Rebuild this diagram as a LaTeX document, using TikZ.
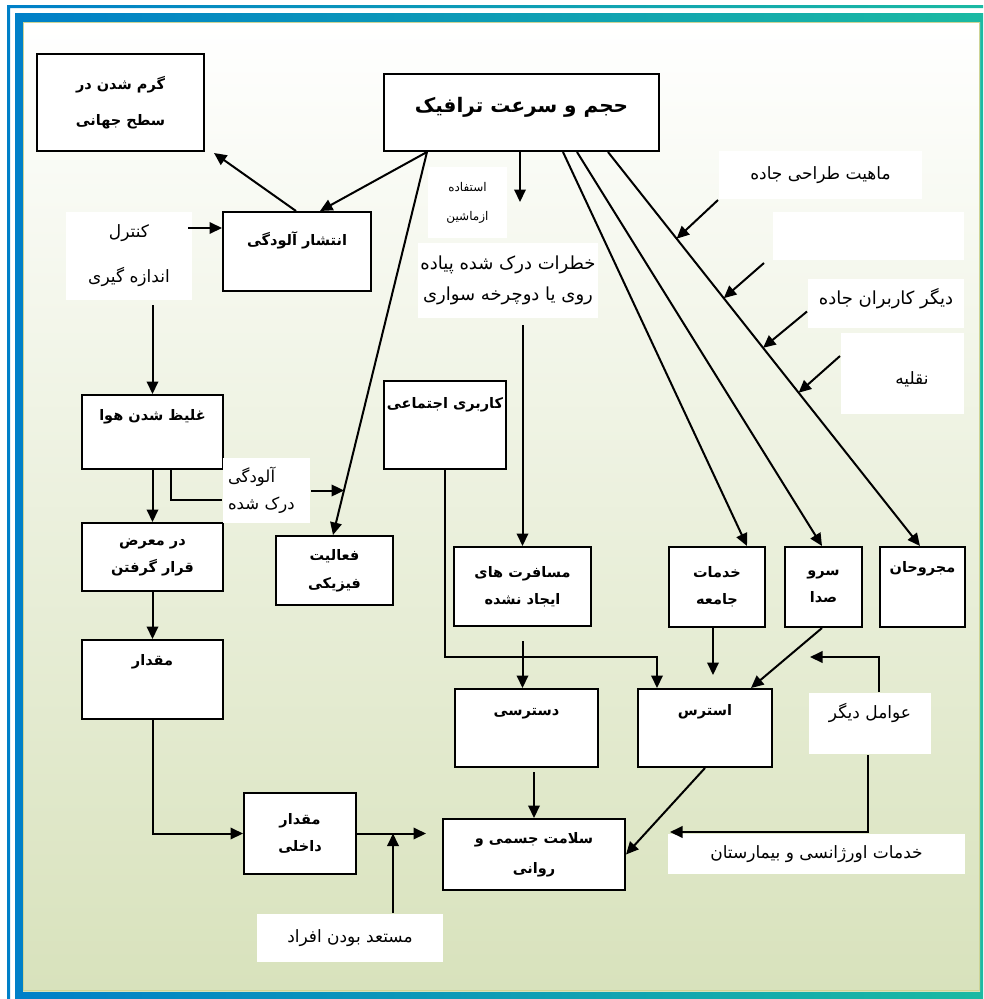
\documentclass[tikz,border=0pt]{standalone}
\usepackage{fontspec}
\usetikzlibrary{arrows.meta,calc}
\newfontfamily\arabicfont[Script=Arabic]{DejaVu Sans}
\TeXXeTstate=1
\newcommand{\fa}[1]{\beginR #1\endR}
\definecolor{frameblue}{RGB}{0,128,200}
\definecolor{frameteal}{RGB}{27,186,162}
\definecolor{paper}{RGB}{216,226,188}
\definecolor{edge}{RGB}{205,212,150}

\begin{document}
\begin{tikzpicture}[x=1pt,y=-1pt,line width=2pt,>={Triangle[length=12.5pt,width=11.5pt]},
  box/.style={draw,fill=white,anchor=north west,align=center,inner sep=2pt,
    font=\arabicfont\bfseries\fontsize{14.5}{27}\selectfont},
  note/.style={fill=white,anchor=north west,align=center,inner sep=0pt,
    font=\arabicfont\fontsize{17}{30}\selectfont},
  lift/.style={text height=11pt,text depth=#1}]
\useasboundingbox (0,0) rectangle (983,999);
\clip (0,0) rectangle (983,999);
\fill[white] (0,0) rectangle (983,999);
\shade[left color=frameblue,right color=frameteal,even odd rule] (7,5) rectangle (995,1010) (10,8) rectangle (992,1007);
\shade[left color=frameblue,right color=frameteal,even odd rule] (15,13) rectangle (990,1005) (23,22) rectangle (980,991);
\shade[top color=white,bottom color=paper] (23,22) rectangle (980,991);
\draw[edge,line width=1pt] (23.5,22.5) rectangle (979.5,990.5);

\node[box,minimum width=167pt,minimum height=97pt] (warm) at (36,53) {\fa{گرم شدن در}\\[9pt]\fa{سطح جهانی}};
\node[box,minimum width=275pt,minimum height=77pt,lift=15pt,text height=14pt,font=\arabicfont\bfseries\fontsize{20}{22}\selectfont] (traffic) at (383,73) {\fa{حجم و سرعت ترافیک}};
\node[box,minimum width=148pt,minimum height=79pt,lift=24pt] (spread) at (222,211) {\fa{انتشار آلودگی}};
\node[box,minimum width=141pt,minimum height=74pt,lift=35pt] (thick) at (81,394) {\fa{غلیظ شدن هوا}};
\node[box,minimum width=141pt,minimum height=68pt] (expose) at (81,522) {\fa{در معرض}\\\fa{قرار گرفتن}};
\node[box,minimum width=117pt,minimum height=69pt] (phys) at (275,535) {\fa{فعالیت}\\[1pt]\fa{فیزیکی}};
\node[box,minimum width=122pt,minimum height=88pt,lift=45pt] (social) at (383,380) {\fa{کاربری اجتماعی}};
\node[box,minimum width=137pt,minimum height=79pt] (trips) at (453,546) {\fa{مسافرت های}\\\fa{ایجاد نشده}};
\node[box,minimum width=96pt,minimum height=80pt] (comm) at (668,546) {\fa{خدمات}\\\fa{جامعه}};
\node[box,minimum width=77pt,minimum height=80pt] (noise) at (784,546) {\fa{سرو}\\\fa{صدا}};
\node[box,minimum width=85pt,minimum height=80pt,lift=40pt] (injured) at (879,546) {\fa{مجروحان}};
\node[box,minimum width=141pt,minimum height=79pt,lift=40pt] (amount) at (81,639) {\fa{مقدار}};
\node[box,minimum width=112pt,minimum height=81pt] (inner) at (243,792) {\fa{مقدار}\\\fa{داخلی}};
\node[box,minimum width=143pt,minimum height=78pt,lift=37pt] (access) at (454,688) {\fa{دسترسی}};
\node[box,minimum width=134pt,minimum height=78pt,lift=37pt] (stress) at (637,688) {\fa{استرس}};
\node[box,minimum width=182pt,minimum height=71pt] (health) at (442,818) {\fa{سلامت جسمی و}\\[3pt]\fa{روانی}};

\node[note,minimum width=126pt,minimum height=88pt] (ctrl) at (65,211) {\fa{کنترل}\\[15pt]\fa{اندازه گیری}};
\node[note,minimum width=79pt,minimum height=71pt,font=\arabicfont\fontsize{12}{29}\selectfont] (usecar) at (427,166) {\fa{استفاده}\\\fa{ازماشین}};
\node[note,minimum width=180pt,minimum height=75pt,font=\arabicfont\fontsize{18}{31}\selectfont] (risk) at (417,242) {\fa{خطرات درک شده پیاده}\\\fa{روی یا دوچرخه سواری}};
\node[note,minimum width=203pt,minimum height=48pt] (design) at (718,150) {\fa{ماهیت طراحی جاده}};
\node[note,minimum width=191pt,minimum height=48pt] (blank) at (772,211) {};
\node[note,minimum width=156pt,minimum height=49pt,lift=10pt,font=\arabicfont\fontsize{18}{30}\selectfont] (others) at (807,278) {\fa{دیگر کاربران جاده}};
\node[font=\tiny,inner sep=0pt] (odot) at ([xshift=41pt,yshift=-5pt]others.south west) {.};
\node[note,minimum width=123pt,minimum height=81pt,text width=52pt,align=right,text height=24pt,text depth=3pt] (vehicle) at (840,332) {\fa{نقلیه}};
\node[note,minimum width=87pt,minimum height=65pt,text width=77pt,align=left,font=\arabicfont\fontsize{16.5}{27}\selectfont] (percv) at (222,457) {\fa{آلودگی}\\\fa{درک شده}};
\node[note,minimum width=186pt,minimum height=48pt] (prone) at (256,913) {\fa{مستعد بودن افراد}};
\node[note,minimum width=122pt,minimum height=61pt,lift=22pt] (other) at (808,692) {\fa{عوامل دیگر}};
\node[note,minimum width=297pt,minimum height=40pt] (emerg) at (667,833) {\fa{خدمات اورژانسی و بیمارستان}};

\coordinate (t0) at ([xshift=44pt]traffic.south west);
\coordinate (p0) at ([xshift=58pt]phys.north west);
\coordinate (r3) at ([xshift=225pt]traffic.south west);
\coordinate (i3) at ([xshift=41pt]injured.north west);
\coordinate (pp) at ($(t0)!0.882!(p0)$);
\coordinate (s1) at (design.south west);
\coordinate (s2) at ([xshift=-8pt,yshift=-2pt]blank.south west);
\coordinate (s3) at ([yshift=-8pt]others.west);
\coordinate (s4) at ([yshift=-24pt]vehicle.north west);
\coordinate (pr) at ([xshift=137pt]prone.north west);

\draw[->] ([xshift=74pt]spread.north west) -- ([xshift=9pt,yshift=-1pt]warm.south east);
\draw[->] (t0) -- ([xshift=98pt]spread.north west);
\draw[->] (t0) -- (p0);
\draw[->] ([xshift=137pt]traffic.south west) -- ++(0,50);
\draw[->] ([yshift=-6pt]risk.south -| trips.north) -- (trips.north);
\draw[->] ([xshift=180pt]traffic.south west) -- ([xshift=79pt]comm.north west);
\draw[->] ([xshift=194pt]traffic.south west) -- ([xshift=38pt]noise.north west);
\draw[->] (r3) -- (i3);
\foreach \i/\k in {1/0.22,2/0.371,3/0.497,4/0.611}{\draw[->] (s\i) -- ($(r3)!\k!(i3)$);}

\draw[->] ([xshift=-5pt,yshift=-17pt]ctrl.north east) -- ([yshift=-17pt]spread.north west);
\draw[->] ([yshift=-4pt]thick.north |- ctrl.south) -- (thick.north);
\draw[->] (thick.south) -- (expose.north);
\draw ([xshift=90pt]thick.south west) |- ([yshift=-43pt]percv.north west);
\draw[->] (percv.east) -- (percv.east -| pp);
\draw[->] (expose.south) -- (amount.north);
\draw[->] (amount.south) |- (inner.west);
\draw[->] (inner.east) -- ([xshift=-16pt]inner.east -| health.west);
\draw[->] (pr) -- (pr |- inner.east);

\draw[->] (social.south) |- ([xshift=20pt,yshift=31pt]stress.north west) -- ([xshift=20pt]stress.north west);
\draw[->] ([yshift=-14pt]trips.south) -- (trips.south |- access.north);
\draw[->] ([xshift=-4pt]comm.south) -- ([xshift=-4pt,yshift=13pt]comm.south |- stress.north);
\draw[->] ([xshift=38pt]noise.south west) -- ([xshift=-22pt]stress.north east);
\draw[->] ([yshift=-4pt]health.north |- access.south) -- (health.north);
\draw[->] (stress.south) -- (health.east);
\draw[->] ([xshift=71pt]other.north west) |- ([xshift=2pt,yshift=35pt]other.north west);
\draw[->] ([xshift=60pt]other.south west) |- ([xshift=3pt,yshift=1pt]emerg.north west);

\end{tikzpicture}
\end{document}
